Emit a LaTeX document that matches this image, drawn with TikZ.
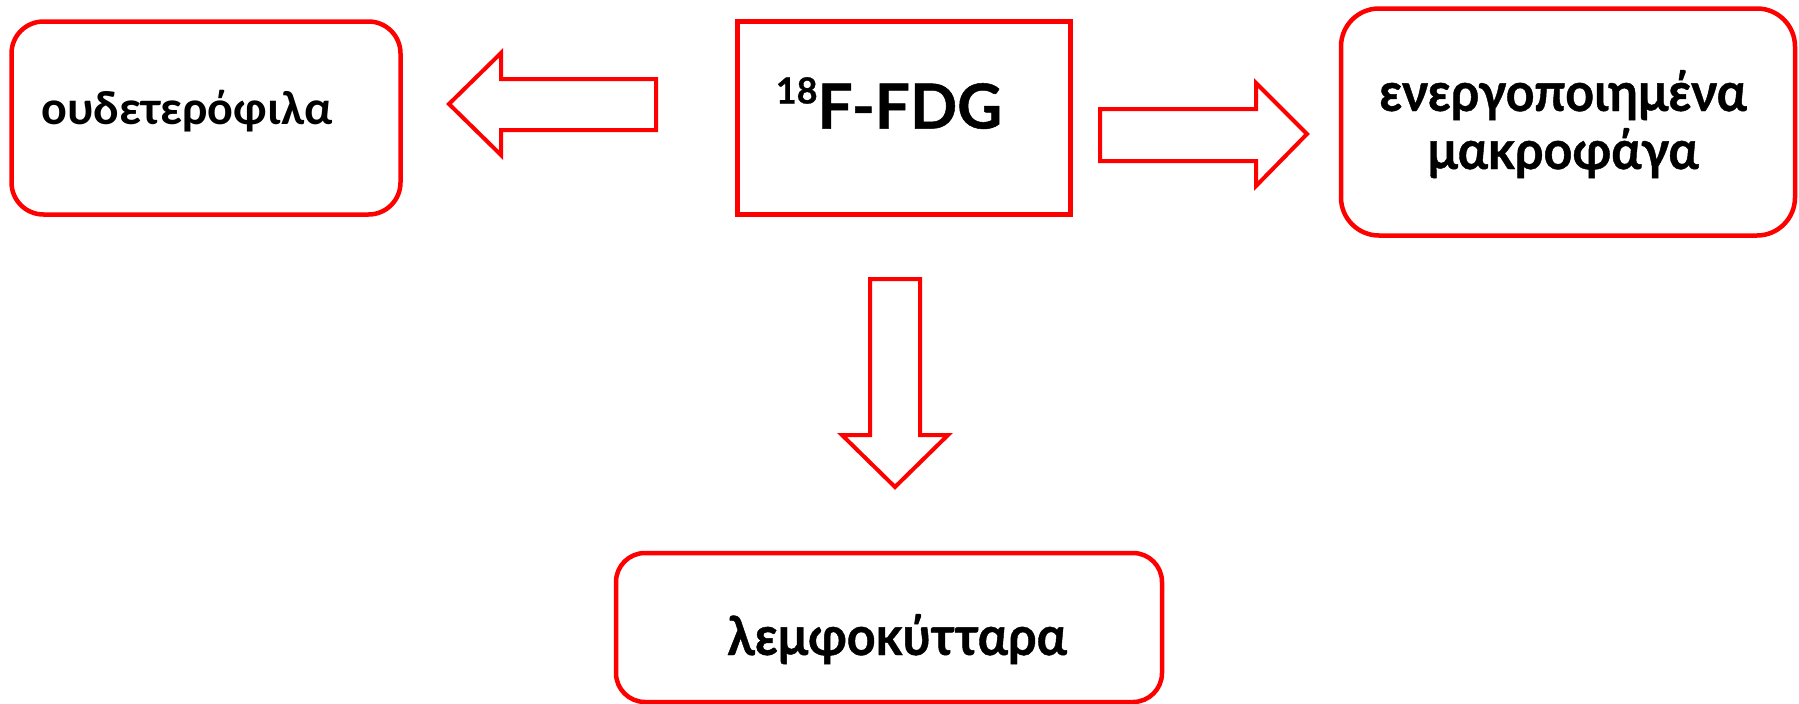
\documentclass[tikz,border=0pt]{standalone}
\usepackage{fontspec}
\usepackage{graphicx}
\newfontfamily\calfont{Carlito}
\newfontfamily\geofont{Lato}
\newcommand{\geob}[1]{\geofont\bfseries\addfontfeatures{FakeBold=0.8}#1}
\begin{document}
\begin{tikzpicture}[x=1pt,y=-1pt,
  rbox/.style={draw=red, line width=4.5pt, inner sep=0pt},
  blockarrow/.style={draw=red, line width=4pt, line join=miter, fill=white},
  lbl/.style={inner sep=0pt, anchor=base, text=black}]
\useasboundingbox (0,0) rectangle (1799,704);
% boxes
\node[rbox, rounded corners=32pt, minimum width=389pt, minimum height=193pt] (neu) at (206,118) {};
\node[rbox, minimum width=333pt, minimum height=193pt] (fdg) at (904,118) {};
\node[rbox, rounded corners=38pt, minimum width=454pt, minimum height=227pt] (mac) at (1568,122) {};
\node[rbox, rounded corners=29pt, minimum width=546pt, minimum height=149pt] (lym) at (889,627.5) {};
% labels
\node[lbl] (tneu) at (187,124) {\calfont\bfseries\fontsize{48}{58}\selectfont ουδετερόφιλα};
\node[lbl] (tfdg) at (889,128.5) {\geob{\fontsize{62}{66}\selectfont\raisebox{25pt}{\fontsize{36}{36}\selectfont 18}F-FDG}};
\node[lbl] (tmac1) at (1563,111) {\scalebox{0.93}[1]{\geob{\fontsize{54}{58}\selectfont ενεργοποιημένα}}};
\node[lbl] (tmac2) at (1563,169) {\scalebox{0.93}[1]{\geob{\fontsize{54}{58}\selectfont μακροφάγα}}};
\node[lbl] (tlym) at (897,655) {\scalebox{0.93}[1]{\geob{\fontsize{54}{58}\selectfont λεμφοκύτταρα}}};
% block arrows
\draw[blockarrow] (656,79) -- (501,79) -- (501,53) -- (449,104) -- (501,155) -- (501,130) -- (656,130) -- cycle;
\draw[blockarrow] (1100,109) -- (1256,109) -- (1256,83) -- (1307,134) -- (1256,186) -- (1256,161) -- (1100,161) -- cycle;
\draw[blockarrow] (870,279) -- (920,279) -- (920,435) -- (948,435) -- (895,487) -- (842,435) -- (870,435) -- cycle;
\end{tikzpicture}
\end{document}
